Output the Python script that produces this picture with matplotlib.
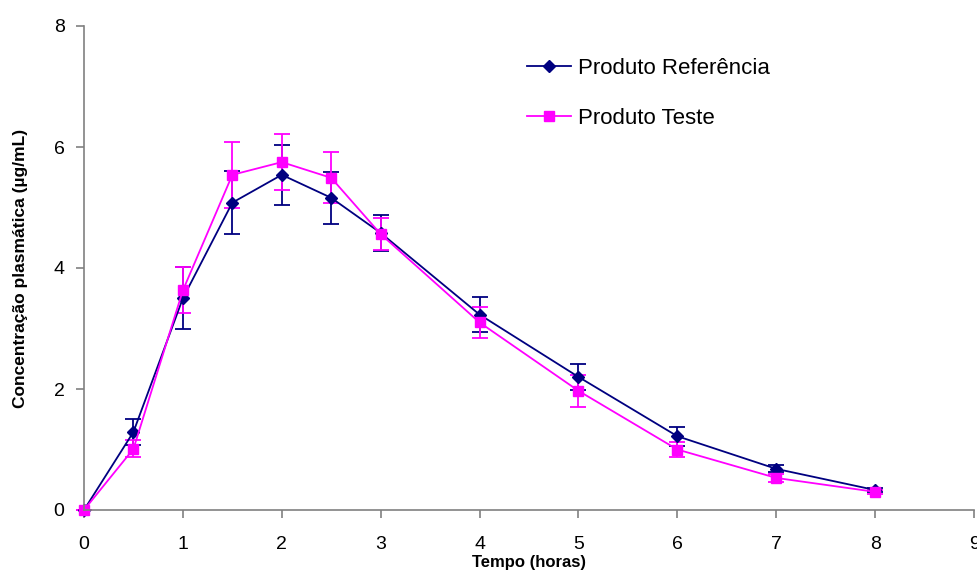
import matplotlib
matplotlib.use("Agg")
import matplotlib.pyplot as plt
from matplotlib.lines import Line2D

plt.rcParams['font.family'] = ['Liberation Sans', 'DejaVu Sans']

tempo = [0, 0.5, 1, 1.5, 2, 2.5, 3, 4, 5, 6, 7, 8]
referencia = [0, 1.29, 3.50, 5.08, 5.54, 5.16, 4.58, 3.23, 2.20, 1.22, 0.68, 0.33]
referencia_dp = [0, 0.22, 0.51, 0.52, 0.50, 0.43, 0.30, 0.29, 0.21, 0.16, 0.06, 0.03]
teste = [0, 1.01, 3.63, 5.54, 5.75, 5.49, 4.56, 3.10, 1.97, 1.00, 0.53, 0.30]
teste_dp = [0, 0.14, 0.38, 0.54, 0.46, 0.42, 0.27, 0.26, 0.26, 0.12, 0.07, 0.03]

fig = plt.figure(figsize=(9.78, 5.73), dpi=100)
ax = fig.add_axes([84/978, 1 - 510/573, 890/978, 484/573])

navy = '#000080'
pink = '#FF00FF'

r = ax.errorbar(tempo, referencia, yerr=referencia_dp, color=navy, marker='D',
                markersize=6, linewidth=1.3, capsize=6, capthick=1.3, elinewidth=1.3)
t = ax.errorbar(tempo, teste, yerr=teste_dp, color=pink, marker='s',
                markersize=7, linewidth=1.3, capsize=6, capthick=1.3, elinewidth=1.3)
for c in (r, t):
    for art in c.get_children():
        art.set_clip_on(False)

ax.set_xlim(0, 9)
ax.set_ylim(0, 8)
ax.set_xticks(range(0, 10))
ax.set_yticks([0, 2, 4, 6, 8])
for s in ['top', 'right']:
    ax.spines[s].set_visible(False)
for s in ['left', 'bottom']:
    ax.spines[s].set_color('#808080')
    ax.spines[s].set_linewidth(1.2)
ax.tick_params(axis='both', colors='#808080', labelcolor='black', labelsize=14,
               length=6, width=1.2)
ax.tick_params(axis='y', pad=8)
ax.tick_params(axis='x', pad=13)
ax.set_xlabel('Tempo (horas)', fontsize=12, fontweight='bold')
ax.set_ylabel('Concentração plasmática (µg/mL)', fontsize=12.5, fontweight='bold')
ax.yaxis.set_label_coords(-0.063, 0.5)
ax.xaxis.set_label_coords(0.5, -0.094)

handles = [Line2D([], [], color=navy, marker='D', markersize=6, linewidth=1.3),
           Line2D([], [], color=pink, marker='s', markersize=7, linewidth=1.3)]
ax.legend(handles, ['Produto Referência', 'Produto Teste'], loc='upper left',
          bbox_to_anchor=(0.475, 0.975), frameon=False, fontsize=16,
          handlelength=2.0, labelspacing=1.3, handletextpad=0.3)

fig.savefig('out.png', dpi=100)
